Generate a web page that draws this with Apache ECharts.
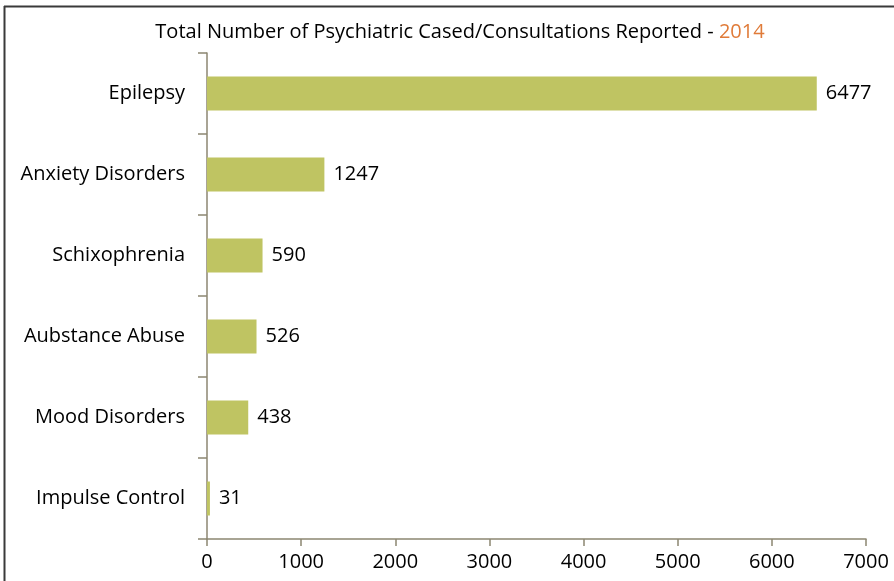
<!DOCTYPE html>
<html>
<head>
<meta charset="utf-8">
<script src="https://cdn.jsdelivr.net/npm/echarts@6/dist/echarts.min.js"></script>
<style>
html,body{margin:0;padding:0;background:#fff;}
#chart{width:894px;height:581px;}
</style>
</head>
<body>
<div id="chart"></div>
<script>
const categories = ['Epilepsy', 'Anxiety Disorders', 'Schixophrenia', 'Aubstance Abuse', 'Mood Disorders', 'Impulse Control'];
const values = [6477, 1247, 590, 526, 438, 31];
const xTicks = [0, 1000, 2000, 3000, 4000, 5000, 6000, 7000];

const chart = echarts.init(document.getElementById('chart'));
const FONT = 'Open Sans';
chart.setOption({
  backgroundColor: '#ffffff',
  animation: false,
  title: {
    text: '{a|Total Number of Psychiatric Cased/Consultations Reported - }{b|2014}',
    left: 455,
    textAlign: 'center',
    top: 17,
    textStyle: {
      fontWeight: 'normal',
      rich: {
        a: { fontFamily: FONT, fontSize: 20, fontWeight: 'normal', color: '#000000' },
        b: { fontFamily: FONT, fontSize: 20, fontWeight: 'normal', color: '#e07b39' }
      }
    }
  },
  graphic: [
    { type: 'line', shape: { x1: 4.5, y1: 6, x2: 4.5, y2: 581 }, style: { stroke: '#3a3a3a', lineWidth: 2 } },
    { type: 'line', shape: { x1: 4, y1: 6.5, x2: 894, y2: 6.5 }, style: { stroke: '#3a3a3a', lineWidth: 2 } }
  ],
  grid: { left: 207, right: 28, top: 53, bottom: 42, containLabel: false },
  xAxis: {
    type: 'value',
    min: 0, max: 7000, interval: 1000,
    axisLine: { show: true, lineStyle: { color: '#8c8672', width: 1.5 } },
    axisTick: { show: true, length: 7, lineStyle: { color: '#8c8672', width: 1.5 } },
    splitLine: { show: false },
    axisLabel: {
      fontFamily: FONT, fontSize: 20, color: '#000000', margin: 13,
      formatter: v => xTicks.includes(v) ? String(v) : ''
    }
  },
  yAxis: {
    type: 'category',
    data: categories,
    inverse: true,
    axisLine: { show: true, lineStyle: { color: '#8c8672', width: 1.5 } },
    axisTick: { show: true, length: 9, lineStyle: { color: '#8c8672', width: 1.5 } },
    axisLabel: { fontFamily: FONT, fontSize: 20, color: '#000000', margin: 22 }
  },
  series: [{
    type: 'bar',
    data: values,
    barWidth: 34,
    itemStyle: { color: '#bfc462' },
    label: {
      show: true, position: 'right', distance: 9,
      fontFamily: FONT, fontSize: 20, color: '#000000'
    }
  }]
});
</script>
</body>
</html>
